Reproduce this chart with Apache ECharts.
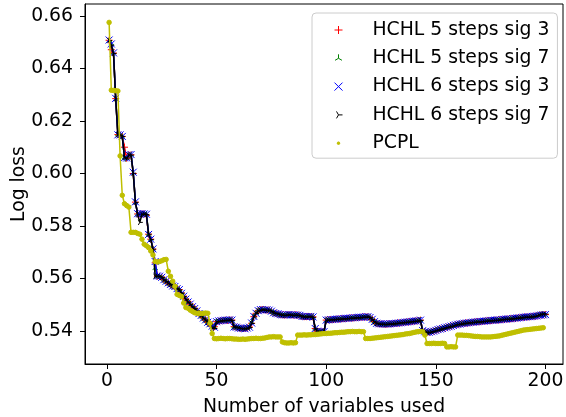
<!DOCTYPE html>
<html>
<head>
<meta charset="utf-8">
<script src="https://cdn.jsdelivr.net/npm/echarts@6/dist/echarts.min.js"></script>
<style>
    html, body {margin: 0; padding: 0; background: #fff;}
    #main {width: 566px; height: 417px;}
</style>
</head>
<body>
<div id="main"></div>
<script>
// log loss vs number of variables used

var x_ticks = [0, 50, 100, 150, 200]
var y_ticks = [0.54, 0.56, 0.58, 0.60, 0.62, 0.64, 0.66]

var series_names = ['HCHL 5 steps sig 3', 'HCHL 5 steps sig 7', 'HCHL 6 steps sig 3', 'HCHL 6 steps sig 7', 'PCPL']

var hchl_5_3 = [
    0.6507, 0.6471, 0.6458, 0.6285, 0.6148, 0.6146, 0.6141, 0.6100, 0.6058, 0.6071,
    0.6071, 0.6000, 0.5891, 0.5846, 0.5846, 0.5846, 0.5846, 0.5840, 0.5769, 0.5750,
    0.5712, 0.5660, 0.5609, 0.5609, 0.5605, 0.5596, 0.5590, 0.5583, 0.5578, 0.5573,
    0.5570, 0.5562, 0.5558, 0.5545, 0.5533, 0.5522, 0.5512, 0.5503, 0.5493, 0.5486,
    0.5477, 0.5468, 0.5460, 0.5450, 0.5443, 0.5434, 0.5428, 0.5420, 0.5417, 0.5436,
    0.5438, 0.5440, 0.5440, 0.5442, 0.5441, 0.5443, 0.5442, 0.5417, 0.5415, 0.5413,
    0.5411, 0.5410, 0.5410, 0.5412, 0.5415, 0.5430, 0.5455, 0.5468, 0.5478, 0.5481,
    0.5482, 0.5481, 0.5480, 0.5480, 0.5476, 0.5470, 0.5468, 0.5466, 0.5463, 0.5462,
    0.5461, 0.5462, 0.5463, 0.5462, 0.5461, 0.5462, 0.5461, 0.5460, 0.5456, 0.5455,
    0.5455, 0.5456, 0.5455, 0.5454, 0.5410, 0.5400, 0.5398, 0.5398, 0.5399, 0.5442,
    0.5443, 0.5444, 0.5444, 0.5445, 0.5446, 0.5446, 0.5447, 0.5448, 0.5448, 0.5449,
    0.5450, 0.5450, 0.5451, 0.5452, 0.5452, 0.5453, 0.5454, 0.5454, 0.5455, 0.5452,
    0.5445, 0.5436, 0.5430, 0.5428, 0.5427, 0.5427, 0.5426, 0.5427, 0.5428, 0.5428,
    0.5429, 0.5430, 0.5431, 0.5432, 0.5433, 0.5434, 0.5435, 0.5436, 0.5437, 0.5438,
    0.5439, 0.5440, 0.5442, 0.5400, 0.5398, 0.5395, 0.5396, 0.5398, 0.5400, 0.5403,
    0.5405, 0.5408, 0.5410, 0.5412, 0.5415, 0.5417, 0.5419, 0.5421, 0.5424, 0.5426,
    0.5427, 0.5429, 0.5430, 0.5431, 0.5432, 0.5433, 0.5434, 0.5435, 0.5436, 0.5436,
    0.5437, 0.5438, 0.5439, 0.5440, 0.5440, 0.5441, 0.5442, 0.5442, 0.5443, 0.5444,
    0.5445, 0.5446, 0.5446, 0.5447, 0.5448, 0.5449, 0.5450, 0.5451, 0.5452, 0.5453,
    0.5454, 0.5454, 0.5455, 0.5456, 0.5457, 0.5458, 0.5460, 0.5461, 0.5462, 0.5463
]

var hchl_5_7 = [
    0.6505, 0.6495, 0.6460, 0.6283, 0.6149, 0.6146, 0.6140, 0.6062, 0.6058, 0.6070,
    0.6071, 0.6002, 0.5890, 0.5846, 0.5845, 0.5846, 0.5845, 0.5846, 0.5770, 0.5751,
    0.5711, 0.5640, 0.5609, 0.5608, 0.5604, 0.5597, 0.5591, 0.5583, 0.5577, 0.5573,
    0.5569, 0.5563, 0.5557, 0.5546, 0.5534, 0.5521, 0.5512, 0.5502, 0.5494, 0.5485,
    0.5478, 0.5469, 0.5459, 0.5451, 0.5442, 0.5435, 0.5426, 0.5421, 0.5416, 0.5435,
    0.5438, 0.5439, 0.5441, 0.5442, 0.5440, 0.5443, 0.5441, 0.5418, 0.5414, 0.5413,
    0.5412, 0.5410, 0.5411, 0.5412, 0.5416, 0.5435, 0.5454, 0.5469, 0.5477, 0.5481,
    0.5481, 0.5482, 0.5480, 0.5479, 0.5475, 0.5471, 0.5468, 0.5465, 0.5463, 0.5461,
    0.5461, 0.5462, 0.5462, 0.5463, 0.5461, 0.5461, 0.5461, 0.5459, 0.5457, 0.5455,
    0.5454, 0.5456, 0.5455, 0.5455, 0.5411, 0.5401, 0.5398, 0.5397, 0.5399, 0.5441,
    0.5443, 0.5443, 0.5445, 0.5445, 0.5445, 0.5446, 0.5447, 0.5447, 0.5448, 0.5449,
    0.5449, 0.5450, 0.5451, 0.5451, 0.5452, 0.5453, 0.5453, 0.5454, 0.5454, 0.5453,
    0.5444, 0.5437, 0.5431, 0.5428, 0.5427, 0.5426, 0.5426, 0.5427, 0.5427, 0.5428,
    0.5429, 0.5429, 0.5431, 0.5432, 0.5432, 0.5434, 0.5435, 0.5435, 0.5437, 0.5438,
    0.5438, 0.5440, 0.5441, 0.5401, 0.5398, 0.5396, 0.5396, 0.5398, 0.5399, 0.5403,
    0.5405, 0.5407, 0.5410, 0.5412, 0.5414, 0.5417, 0.5419, 0.5421, 0.5423, 0.5426,
    0.5427, 0.5428, 0.5430, 0.5431, 0.5432, 0.5433, 0.5433, 0.5435, 0.5435, 0.5436,
    0.5437, 0.5438, 0.5438, 0.5439, 0.5440, 0.5441, 0.5441, 0.5442, 0.5443, 0.5443,
    0.5444, 0.5445, 0.5446, 0.5447, 0.5447, 0.5448, 0.5449, 0.5450, 0.5451, 0.5452,
    0.5453, 0.5454, 0.5454, 0.5455, 0.5456, 0.5457, 0.5458, 0.5459, 0.5460, 0.5461
]

var hchl_6_3 = [
    0.6508, 0.6493, 0.6459, 0.6286, 0.6147, 0.6147, 0.6141, 0.6060, 0.6059, 0.6071,
    0.6072, 0.6005, 0.5892, 0.5847, 0.5846, 0.5847, 0.5846, 0.5845, 0.5768, 0.5750,
    0.5713, 0.5665, 0.5610, 0.5609, 0.5605, 0.5596, 0.5590, 0.5584, 0.5578, 0.5572,
    0.5570, 0.5562, 0.5558, 0.5544, 0.5533, 0.5522, 0.5511, 0.5503, 0.5493, 0.5486,
    0.5477, 0.5467, 0.5460, 0.5450, 0.5443, 0.5434, 0.5428, 0.5419, 0.5415, 0.5436,
    0.5439, 0.5440, 0.5441, 0.5442, 0.5442, 0.5443, 0.5442, 0.5416, 0.5415, 0.5412,
    0.5411, 0.5410, 0.5409, 0.5412, 0.5415, 0.5431, 0.5456, 0.5468, 0.5478, 0.5482,
    0.5482, 0.5481, 0.5481, 0.5480, 0.5476, 0.5470, 0.5467, 0.5466, 0.5463, 0.5462,
    0.5462, 0.5462, 0.5463, 0.5462, 0.5462, 0.5462, 0.5461, 0.5460, 0.5456, 0.5456,
    0.5455, 0.5456, 0.5456, 0.5454, 0.5410, 0.5400, 0.5398, 0.5398, 0.5398, 0.5442,
    0.5443, 0.5444, 0.5444, 0.5445, 0.5446, 0.5447, 0.5447, 0.5448, 0.5449, 0.5449,
    0.5450, 0.5451, 0.5451, 0.5452, 0.5453, 0.5453, 0.5454, 0.5455, 0.5455, 0.5452,
    0.5445, 0.5436, 0.5430, 0.5428, 0.5428, 0.5427, 0.5427, 0.5427, 0.5428, 0.5429,
    0.5429, 0.5430, 0.5431, 0.5432, 0.5433, 0.5434, 0.5435, 0.5436, 0.5437, 0.5438,
    0.5439, 0.5440, 0.5442, 0.5402, 0.5398, 0.5395, 0.5396, 0.5398, 0.5400, 0.5403,
    0.5406, 0.5408, 0.5410, 0.5413, 0.5415, 0.5417, 0.5419, 0.5422, 0.5424, 0.5426,
    0.5427, 0.5429, 0.5430, 0.5431, 0.5432, 0.5433, 0.5434, 0.5435, 0.5436, 0.5437,
    0.5437, 0.5438, 0.5439, 0.5440, 0.5441, 0.5441, 0.5442, 0.5443, 0.5443, 0.5444,
    0.5445, 0.5446, 0.5447, 0.5447, 0.5448, 0.5449, 0.5450, 0.5451, 0.5452, 0.5453,
    0.5454, 0.5455, 0.5455, 0.5456, 0.5457, 0.5458, 0.5460, 0.5461, 0.5462, 0.5463
]

var hchl_6_7 = [
    0.6506, 0.6488, 0.6457, 0.6284, 0.6148, 0.6145, 0.6141, 0.6061, 0.6055, 0.6070,
    0.6070, 0.6001, 0.5890, 0.5845, 0.5814, 0.5845, 0.5846, 0.5844, 0.5769, 0.5749,
    0.5712, 0.5609, 0.5609, 0.5608, 0.5604, 0.5595, 0.5589, 0.5582, 0.5577, 0.5572,
    0.5569, 0.5561, 0.5557, 0.5545, 0.5532, 0.5521, 0.5511, 0.5502, 0.5492, 0.5485,
    0.5476, 0.5467, 0.5459, 0.5449, 0.5442, 0.5433, 0.5427, 0.5412, 0.5410, 0.5435,
    0.5437, 0.5439, 0.5440, 0.5441, 0.5441, 0.5442, 0.5441, 0.5416, 0.5414, 0.5412,
    0.5410, 0.5409, 0.5409, 0.5411, 0.5414, 0.5429, 0.5454, 0.5467, 0.5477, 0.5480,
    0.5481, 0.5480, 0.5479, 0.5479, 0.5475, 0.5469, 0.5467, 0.5465, 0.5462, 0.5461,
    0.5460, 0.5461, 0.5462, 0.5461, 0.5460, 0.5461, 0.5460, 0.5459, 0.5455, 0.5454,
    0.5454, 0.5455, 0.5454, 0.5453, 0.5409, 0.5399, 0.5397, 0.5397, 0.5398, 0.5441,
    0.5442, 0.5443, 0.5443, 0.5444, 0.5445, 0.5445, 0.5446, 0.5447, 0.5447, 0.5448,
    0.5449, 0.5449, 0.5450, 0.5451, 0.5451, 0.5452, 0.5453, 0.5453, 0.5454, 0.5451,
    0.5444, 0.5435, 0.5429, 0.5427, 0.5426, 0.5426, 0.5425, 0.5426, 0.5427, 0.5427,
    0.5428, 0.5429, 0.5430, 0.5431, 0.5432, 0.5433, 0.5434, 0.5435, 0.5436, 0.5437,
    0.5438, 0.5439, 0.5441, 0.5399, 0.5397, 0.5394, 0.5395, 0.5397, 0.5399, 0.5402,
    0.5404, 0.5407, 0.5409, 0.5411, 0.5414, 0.5416, 0.5418, 0.5420, 0.5423, 0.5425,
    0.5426, 0.5428, 0.5429, 0.5430, 0.5431, 0.5432, 0.5433, 0.5434, 0.5435, 0.5435,
    0.5436, 0.5437, 0.5438, 0.5439, 0.5439, 0.5440, 0.5441, 0.5441, 0.5442, 0.5443,
    0.5444, 0.5445, 0.5445, 0.5446, 0.5447, 0.5448, 0.5449, 0.5450, 0.5451, 0.5452,
    0.5453, 0.5453, 0.5454, 0.5455, 0.5456, 0.5458, 0.5461, 0.5464, 0.5465, 0.5465
]

var pcpl = [
    0.6575, 0.6317, 0.6316, 0.6315, 0.6314, 0.6067, 0.5917, 0.5885, 0.5878, 0.5872,
    0.5776, 0.5776, 0.5776, 0.5772, 0.5769, 0.5750, 0.5731, 0.5725, 0.5718, 0.5705,
    0.5690, 0.5665, 0.5663, 0.5665, 0.5668, 0.5672, 0.5673, 0.5628, 0.5609, 0.5590,
    0.5571, 0.5540, 0.5536, 0.5532, 0.5507, 0.5490, 0.5487, 0.5480, 0.5475, 0.5470,
    0.5468, 0.5468, 0.5467, 0.5468, 0.5469, 0.5468, 0.5430, 0.5391, 0.5372, 0.5371,
    0.5372, 0.5373, 0.5372, 0.5371, 0.5372, 0.5372, 0.5371, 0.5370, 0.5370, 0.5369,
    0.5369, 0.5370, 0.5369, 0.5370, 0.5371, 0.5372, 0.5372, 0.5373, 0.5372, 0.5372,
    0.5373, 0.5374, 0.5376, 0.5378, 0.5378, 0.5379, 0.5378, 0.5378, 0.5378, 0.5359,
    0.5356, 0.5355, 0.5355, 0.5356, 0.5355, 0.5356, 0.5385, 0.5385, 0.5385, 0.5386,
    0.5385, 0.5386, 0.5386, 0.5387, 0.5387, 0.5388, 0.5389, 0.5390, 0.5391, 0.5391,
    0.5392, 0.5392, 0.5393, 0.5394, 0.5394, 0.5395, 0.5396, 0.5396, 0.5397, 0.5398,
    0.5398, 0.5399, 0.5398, 0.5398, 0.5399, 0.5398, 0.5398, 0.5372, 0.5372, 0.5372,
    0.5373, 0.5374, 0.5375, 0.5376, 0.5377, 0.5378, 0.5379, 0.5380, 0.5381, 0.5382,
    0.5383, 0.5384, 0.5385, 0.5386, 0.5387, 0.5389, 0.5390, 0.5391, 0.5393, 0.5395,
    0.5397, 0.5398, 0.5399, 0.5398, 0.5385, 0.5353, 0.5353, 0.5353, 0.5354, 0.5353,
    0.5353, 0.5353, 0.5354, 0.5353, 0.5340, 0.5340, 0.5341, 0.5340, 0.5340, 0.5385,
    0.5385, 0.5385, 0.5384, 0.5384, 0.5383, 0.5382, 0.5381, 0.5380, 0.5380, 0.5379,
    0.5378, 0.5378, 0.5378, 0.5378, 0.5378, 0.5379, 0.5380, 0.5381, 0.5382, 0.5384,
    0.5386, 0.5388, 0.5390, 0.5392, 0.5394, 0.5396, 0.5398, 0.5400, 0.5402, 0.5404,
    0.5405, 0.5406, 0.5407, 0.5408, 0.5409, 0.5410, 0.5411, 0.5412, 0.5413
]

// matplotlib marker shapes, the M points only widen the bounding box so the glyph stays centred
var sym_plus = 'path://M-5,-5M5,5M-5,0L5,0M0,-5L0,5'
var sym_x = 'path://M-5,-5L5,5M5,-5L-5,5'
var sym_tri_up = 'path://M-5,-5M5,5M0,0L0,-5M0,0L-4.33,2.5M0,0L4.33,2.5'
var sym_tri_right = 'path://M-5,-5M5,5M0,0L5,0M0,0L-2.5,-4.33M0,0L-2.5,4.33'
var sym_dot = 'path://M-5,-5M5,5M-1.6,0A1.6,1.6,0,1,0,1.6,0A1.6,1.6,0,1,0,-1.6,0Z'

var font = 'DejaVu Sans'

function to_points(arr) {
    return arr.map(function (v, i) {
        return [i + 1, v]
    })
}

function make_series(name, data, color, symbol, size, z) {
    return {
        name: name,
        type: 'line',
        data: to_points(data),
        symbol: symbol,
        symbolSize: size,
        symbolKeepAspect: true,
        showAllSymbol: true,
        z: z,
        lineStyle: {color: color, width: 1.5},
        itemStyle: {color: color, borderColor: color, borderWidth: 1},
        emphasis: {disabled: true}
    }
}

var chart = echarts.init(document.getElementById('main'), null, {renderer: 'canvas'});

var legend_icons = [sym_plus, sym_tri_up, sym_x, sym_tri_right, sym_dot]
var legend_colors = ['#ff0000', '#008000', '#0000ff', '#000000', '#bfbf00']

var option = {
    animation: false,
    backgroundColor: '#fff',
    grid: {
        left: 85,
        right: 3,
        top: 4,
        bottom: 53,
        show: true,
        borderColor: '#000',
        borderWidth: 1,
        containLabel: false,
        outerBoundsMode: 'none'
    },
    legend: {
        orient: 'vertical',
        left: 312,
        top: 13,
        padding: [7, 8, 5, 22],
        itemWidth: 32,
        itemHeight: 8,
        itemGap: 8.3,
        backgroundColor: 'rgba(255,255,255,0.8)',
        borderColor: '#cccccc',
        borderWidth: 1,
        borderRadius: 4,
        selectedMode: false,
        textStyle: {
            fontFamily: font,
            fontSize: 18.8,
            color: '#000',
            lineHeight: 20,
            padding: [0, 0, 0, 13]
        },
        data: series_names.map(function (n, i) {
            return {
                name: n,
                icon: legend_icons[i],
                itemStyle: {color: legend_colors[i], borderColor: legend_colors[i], borderWidth: 1}
            }
        })
    },
    xAxis: {
        type: 'value',
        min: -10,
        max: 208,
        name: 'Number of variables used',
        nameLocation: 'middle',
        nameGap: 34,
        nameMoveOverlap: false,
        nameTextStyle: {fontFamily: font, fontSize: 18.8, color: '#000'},
        axisLine: {show: true, onZero: false, lineStyle: {color: '#000', width: 1}},
        axisTick: {show: true, inside: false, length: 5, customValues: x_ticks, lineStyle: {color: '#000'}},
        axisLabel: {customValues: x_ticks, margin: 8, fontFamily: font, fontSize: 18.8, color: '#000'},
        splitLine: {show: false}
    },
    yAxis: {
        type: 'value',
        min: 0.5275,
        max: 0.6645,
        name: 'Log loss',
        nameLocation: 'middle',
        nameGap: 56,
        nameMoveOverlap: false,
        nameTextStyle: {fontFamily: font, fontSize: 18.8, color: '#000'},
        axisLine: {show: true, onZero: false, lineStyle: {color: '#000', width: 1}},
        axisTick: {show: true, inside: false, length: 5, customValues: y_ticks, lineStyle: {color: '#000'}},
        axisLabel: {
            customValues: y_ticks,
            margin: 12,
            fontFamily: font,
            fontSize: 18.8,
            color: '#000',
            formatter: function (v) {
                return v.toFixed(2)
            }
        },
        splitLine: {show: false}
    },
    series: [
        make_series(series_names[0], hchl_5_3, '#ff0000', sym_plus, 7, 2),
        make_series(series_names[1], hchl_5_7, '#008000', sym_tri_up, 6, 3),
        make_series(series_names[2], hchl_6_3, '#0000ff', sym_x, 7, 4),
        make_series(series_names[3], hchl_6_7, '#000000', sym_tri_right, 6, 5),
        make_series(series_names[4], pcpl, '#bfbf00', 'circle', 4.5, 6)
    ]
};

chart.setOption(option);
</script>
</body>
</html>
